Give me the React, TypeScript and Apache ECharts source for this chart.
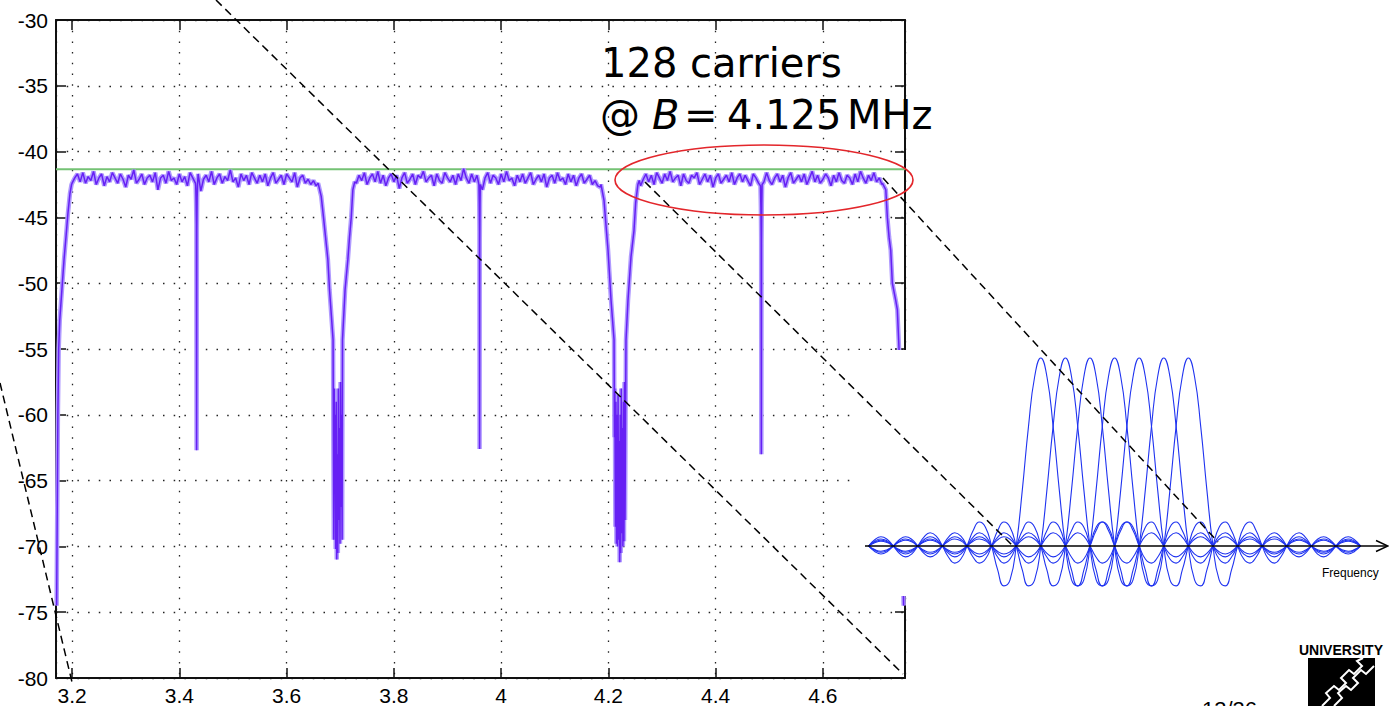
import React, { useEffect, useRef } from 'react';
import * as echarts from 'echarts';

// ---------- main spectrum (MHz, dB) ----------
const X_MIN = 3.17;
const X_MAX = 4.753;
const Y_MIN = -80;
const Y_MAX = -30;
const Y_STEP = 5;
const refLevel = -41.35;

const bandStarts = [3.2, 3.73, 4.26];
const bandStep = 0.005;

const band1 = [
  -42.4, -42.0, -41.7, -42.3, -41.6, -42.4, -41.9, -42.2, -41.5, -42.5,
  -42.0, -41.7, -42.6, -41.9, -42.3, -41.6, -42.0, -42.4, -41.7, -42.1,
  -42.7, -41.8, -42.1, -41.4, -42.4, -42.1, -41.7, -42.5, -42.0, -41.8,
  -42.3, -41.6, -42.9, -42.0, -41.8, -42.4, -41.5, -42.2, -42.0, -42.5,
  -41.7, -42.3, -41.9, -42.6, -41.6, -42.0, -42.4, -41.7, -43.0, -42.1,
  -41.8, -42.3, -41.5, -42.5, -42.0, -41.7, -42.4, -41.9, -42.2, -41.4,
  -42.3, -42.0, -42.7, -41.7, -42.2, -41.8, -42.5, -41.6, -42.0, -42.4,
  -41.8, -42.3, -41.7, -42.6, -42.0, -41.6, -42.4, -42.1, -41.8, -42.5,
  -41.7, -42.0, -42.3, -41.6, -42.7, -42.0, -41.8, -42.4, -42.1, -42.5,
  -42.2, -42.6,
];
const band2 = [
  -42.4, -41.8, -42.2, -41.6, -42.5, -42.0, -41.7, -42.3, -41.5, -42.4,
  -41.8, -42.6, -42.0, -41.7, -42.3, -41.8, -42.8, -42.0, -41.6, -42.4,
  -42.1, -41.7, -42.5, -41.8, -42.0, -41.5, -42.3, -42.0, -41.8, -42.6,
  -41.7, -42.2, -42.4, -41.6, -42.0, -42.3, -41.8, -42.5, -41.7, -42.2,
  -41.3, -42.0, -42.4, -41.7, -42.3, -41.8, -42.2, -42.9, -42.0, -41.6,
  -42.4, -41.8, -42.0, -42.5, -41.7, -42.3, -41.5, -42.2, -42.0, -42.6,
  -41.8, -42.3, -41.7, -42.4, -42.0, -41.6, -42.5, -42.1, -41.8, -42.3,
  -41.7, -42.7, -42.0, -41.8, -42.4, -41.6, -42.2, -42.0, -42.5, -41.7,
  -42.3, -41.8, -42.6, -42.0, -41.7, -42.4, -42.1, -41.8, -42.5, -42.2,
  -42.6, -42.7,
];
const band3 = [
  -42.6, -42.1, -41.7, -42.3, -41.8, -42.5, -41.6, -42.0, -42.4, -41.7,
  -42.2, -41.5, -42.3, -42.0, -41.8, -42.6, -41.7, -42.2, -42.4, -41.8,
  -42.0, -41.6, -42.5, -42.1, -41.7, -42.3, -41.8, -42.7, -42.0, -41.7,
  -42.4, -42.1, -41.8, -42.3, -41.6, -42.5, -42.0, -41.7, -42.3, -41.8,
  -42.2, -42.6, -41.7, -42.0, -42.4, -41.8, -42.3, -41.6, -42.2, -42.5,
  -42.0, -41.7, -42.3, -41.8, -42.7, -42.0, -41.6, -42.4, -42.1, -41.8,
  -42.3, -41.7, -42.5, -42.0, -41.5, -42.3, -41.8, -42.4, -42.1, -41.7,
  -42.0, -42.6, -41.8, -42.3, -41.6, -42.2, -42.4, -41.8, -42.0, -42.5,
  -41.7, -42.3, -41.5, -42.0, -42.4, -41.8, -42.2, -41.6, -42.3, -42.0,
  -42.5,
];

const leftEdge = [
  [3.1712, -74.5], [3.1722, -68], [3.1735, -60], [3.175, -55], [3.177, -52.8],
  [3.181, -50.5], [3.185, -48.2], [3.189, -46.3], [3.192, -44.8], [3.196, -43.2], [3.199, -42.5],
];
const notch1 = [[3.4305, -42.6], [3.4312, -43.8], [3.4318, -45.5], [3.4322, -62.7], [3.4326, -46], [3.4332, -43.5], [3.434, -42.4]];
const notch2 = [[3.9585, -42.5], [3.9592, -44], [3.9596, -46], [3.9598, -62.6], [3.9601, -47], [3.9606, -44], [3.9612, -42.5]];
const notch3 = [[4.4835, -42.6], [4.4843, -44.2], [4.4848, -46.5], [4.4851, -63], [4.4855, -47], [4.486, -44], [4.4866, -42.5]];
const gap1 = [
  [3.6587, -42.4], [3.6645, -43.4], [3.6688, -45], [3.6726, -46.5], [3.6769, -48.2], [3.68, -50.5], [3.6835, -52.5],
  [3.6866, -54.3], [3.6872, -62], [3.688, -69.5], [3.6888, -58], [3.6896, -66], [3.6905, -60], [3.6915, -70.2],
  [3.6925, -59], [3.6935, -71], [3.6945, -63], [3.6955, -70.5], [3.6965, -58], [3.6975, -68], [3.6985, -61],
  [3.6995, -69.8], [3.7005, -57.5], [3.7015, -67], [3.7025, -60], [3.7035, -69.5], [3.7042, -54.3],
  [3.709, -50.5], [3.7142, -48.2], [3.7173, -46.5], [3.7205, -45], [3.7235, -42.9], [3.727, -42.3],
];
const gap2 = [
  [4.1862, -42.5], [4.1918, -43.7], [4.1955, -45.6], [4.1993, -47.5], [4.2049, -51.3],
  [4.2105, -54.3], [4.2112, -61.7], [4.212, -58], [4.213, -68.5], [4.214, -59], [4.215, -69.8], [4.216, -60],
  [4.217, -70], [4.218, -58.5], [4.219, -69.5], [4.22, -62], [4.221, -71.2], [4.222, -60], [4.223, -70.5],
  [4.224, -58], [4.225, -69], [4.226, -61], [4.227, -70], [4.228, -59], [4.229, -69.6], [4.23, -57.5],
  [4.231, -68], [4.232, -60], [4.2328, -54.3],
  [4.2365, -51.3], [4.2421, -48], [4.2477, -46], [4.2508, -43.9], [4.255, -42.5], [4.2575, -42.2],
];
const rightEdge = [
  [4.7108, -42.4], [4.7172, -42.9], [4.7201, -45], [4.7233, -46.5], [4.7264, -47.5], [4.7294, -50],
  [4.7357, -51.3], [4.7387, -52], [4.7419, -55], [4.745, -62], [4.748, -69], [4.7505, -74.5],
];

const xTickLabels = ['3.2', '3.4', '3.6', '3.8', '4', '4.2', '4.4', '4.6'];

// ---------- inset: OFDM sub-carrier spectra ----------
const carriers = [0, 1, 2, 3, 4, 5, 6];
const insetRange = [-7, 13];
const sincStep = 0.25;
const sincKernel = [
  1, 0.9003, 0.6366, 0.3001, 0, -0.1801, -0.2122, -0.1286, 0,
  0.1, 0.1273, 0.0818, 0, -0.0693, -0.0909, -0.06, 0,
  0.053, 0.0707, 0.0474, 0, -0.0429, -0.0579, -0.0391, 0,
  0.036, 0.049, 0.0333, 0, -0.031, -0.0424, -0.029, 0,
  0.0273, 0.0374, 0.0257, 0, -0.0243, -0.0335, -0.0231, 0,
  0.022, 0.0303, 0.0209, 0, -0.02, -0.0277, -0.0192, 0,
  0.0184, 0.0255, 0.0177, 0,
];

function buildSpectrum() {
  const specials = [leftEdge, notch1, gap1, notch2, gap2, notch3, rightEdge];
  const pts: number[][] = [];
  const bands = [band1, band2, band3];
  bands.forEach((b, bi) => {
    b.forEach((v, i) => {
      const f = +(bandStarts[bi] + i * bandStep).toFixed(4);
      const inside = specials.some((s) => f >= s[0][0] && f <= s[s.length - 1][0]);
      if (!inside) pts.push([f, v]);
    });
  });
  specials.forEach((s) => s.forEach((p) => pts.push([p[0], p[1]])));
  pts.sort((a, b) => a[0] - b[0]);
  return pts;
}

function buildCarrier(k: number) {
  const out: number[][] = [];
  const n = Math.round((insetRange[1] - insetRange[0]) / sincStep);
  for (let i = 0; i <= n; i++) {
    const x = insetRange[0] + i * sincStep;
    const idx = Math.round(Math.abs(x - k) / sincStep);
    out.push([x, sincKernel[idx] ?? 0]);
  }
  return out;
}

export default function App() {
  const ref = useRef<HTMLDivElement>(null);
  useEffect(() => {
    if (!ref.current) return;
    const chart = echarts.init(ref.current, undefined, { renderer: 'svg' });
    const spectrum = buildSpectrum();
    const dotted = { type: [1.5, 9.2] as any, color: '#222', width: 1.3 };
    const labelFont = { fontFamily: 'Liberation Sans', fontSize: 21, color: '#000' };

    const insetSeries = carriers.map((k) => ({
      type: 'line',
      xAxisIndex: 2,
      yAxisIndex: 2,
      data: buildCarrier(k),
      symbol: 'none',
      smooth: 0.5,
      clip: false,
      z: 6,
      lineStyle: { color: '#1f33f0', width: 1.1 },
    }));

    const dash = { stroke: '#000', lineWidth: 1.5, lineDash: [8, 5] };

    chart.setOption({
      animation: false,
      backgroundColor: '#fff',
      grid: [
        { left: 56, top: 20, width: 849, height: 658 },
        { left: 868.6, top: 358, width: 492, height: 244.4 },
      ],
      xAxis: [
        {
          type: 'value', gridIndex: 0, min: X_MIN, max: X_MAX, splitNumber: 8, position: 'bottom',
          axisLine: { onZero: false, lineStyle: { color: '#111', width: 2 } },
          axisTick: { inside: true, length: 10, lineStyle: { color: '#111', width: 1.5 } },
          axisLabel: {
            ...labelFont, margin: 7, showMinLabel: true, showMaxLabel: true,
            formatter: (v: number) => {
              const r = Math.round(v * 5);
              if (Math.abs(v * 5 - r) > 1e-6) return '';
              return xTickLabels.find((t) => Math.abs(parseFloat(t) - v) < 1e-6) ?? '';
            },
          },
          splitLine: { show: true, lineStyle: dotted },
        },
        {
          type: 'value', gridIndex: 0, min: X_MIN, max: X_MAX, splitNumber: 8, position: 'top',
          axisLine: { onZero: false, lineStyle: { color: '#111', width: 2 } },
          axisTick: { inside: true, length: 10, lineStyle: { color: '#111', width: 1.5 } },
          axisLabel: { show: false },
          splitLine: { show: false },
        },
        { type: 'value', gridIndex: 1, min: insetRange[0], max: insetRange[1], show: false },
      ],
      yAxis: [
        {
          type: 'value', gridIndex: 0, min: Y_MIN, max: Y_MAX, interval: Y_STEP, position: 'left',
          axisLine: { onZero: false, lineStyle: { color: '#111', width: 2 } },
          axisTick: { inside: true, length: 10, lineStyle: { color: '#111', width: 1.5 } },
          axisLabel: { ...labelFont, margin: 8 },
          splitLine: { show: true, lineStyle: dotted },
        },
        {
          type: 'value', gridIndex: 0, min: Y_MIN, max: Y_MAX, interval: Y_STEP, position: 'right',
          axisLine: { onZero: false, lineStyle: { color: '#111', width: 2 } },
          axisTick: { inside: true, length: 10, lineStyle: { color: '#111', width: 1.5 } },
          axisLabel: { show: false },
          splitLine: { show: false },
        },
        { type: 'value', gridIndex: 1, min: -0.3, max: 1, show: false },
      ],
      series: [
        {
          type: 'line', xAxisIndex: 0, yAxisIndex: 0, symbol: 'none', z: 2,
          data: [[X_MIN, refLevel], [X_MAX, refLevel]],
          lineStyle: { color: '#74c274', width: 2 },
        },
        {
          type: 'line', xAxisIndex: 0, yAxisIndex: 0, symbol: 'none', z: 3,
          data: spectrum,
          lineStyle: { color: '#b09aff', width: 4.5 },
        },
        {
          type: 'line', xAxisIndex: 0, yAxisIndex: 0, symbol: 'none', z: 4,
          data: spectrum,
          lineStyle: { color: '#6620f4', width: 1.5 },
        },
        ...insetSeries,
      ],
      graphic: {
        elements: [
          { type: 'rect', z: 5, shape: { x: 858, y: 350, width: 531, height: 246 }, style: { fill: '#fff' } },
          { type: 'line', z: 7, shape: { x1: 865, y1: 546, x2: 1387, y2: 546 }, style: { stroke: '#000', lineWidth: 1.3 } },
          { type: 'polyline', z: 7, shape: { points: [[1376, 540.5], [1388, 546], [1376, 551.5]] }, style: { stroke: '#000', lineWidth: 1.5, fill: 'none' } },
          { type: 'text', z: 7, x: 1322, y: 573, style: { text: 'Frequency', font: '12px "Liberation Sans"', fill: '#000', verticalAlign: 'middle' } },

          { type: 'line', z: 10, shape: { x1: 216, y1: 0, x2: 903, y2: 674 }, style: dash },
          { type: 'line', z: 10, shape: { x1: 0, y1: 383, x2: 72, y2: 682 }, style: dash },
          { type: 'line', z: 10, shape: { x1: 645, y1: 182, x2: 1012, y2: 545 }, style: dash },
          { type: 'line', z: 10, shape: { x1: 883, y1: 178, x2: 1218, y2: 542 }, style: dash },

          { type: 'ellipse', z: 10, shape: { cx: 764, cy: 180, rx: 149, ry: 35 }, style: { fill: 'none', stroke: '#e3262b', lineWidth: 1.6 } },

          { type: 'text', z: 10, x: 601, y: 63, style: { text: '128 carriers', font: '40px "DejaVu Sans"', fill: '#000', verticalAlign: 'middle' } },
          { type: 'text', z: 10, x: 600, y: 115, style: { text: '@', font: '40px "DejaVu Sans"', fill: '#000', verticalAlign: 'middle' } },
          { type: 'text', z: 10, x: 652, y: 115, style: { text: 'B', font: 'italic 40px "DejaVu Sans"', fill: '#000', verticalAlign: 'middle' } },
          { type: 'text', z: 10, x: 684, y: 115, style: { text: '=', font: '40px "DejaVu Sans"', fill: '#000', verticalAlign: 'middle' } },
          { type: 'text', z: 10, x: 727, y: 115, style: { text: '4.125', font: '40px "DejaVu Sans"', fill: '#000', verticalAlign: 'middle' } },
          { type: 'text', z: 10, x: 847, y: 115, style: { text: 'MHz', font: '40px "DejaVu Sans"', fill: '#000', verticalAlign: 'middle' } },

          { type: 'text', z: 10, x: 1202, y: 698, style: { text: '13/36', font: '22px "Liberation Sans"', fill: '#000', verticalAlign: 'top' } },

          { type: 'text', z: 10, x: 1341, y: 650, style: { text: 'UNIVERSITY', font: 'bold 14px "Liberation Sans Narrow", "Liberation Sans"', fill: '#000', align: 'center', verticalAlign: 'middle' } },
          { type: 'rect', z: 10, shape: { x: 1308, y: 658, width: 67, height: 48 }, style: { fill: '#000' } },
          {
            type: 'polyline', z: 11,
            shape: { points: [[1322, 706], [1330, 698], [1326, 693], [1334, 686], [1339, 690], [1346, 683], [1341, 678], [1349, 670], [1354, 674], [1362, 666], [1357, 661], [1363, 658]] },
            style: { stroke: '#fff', lineWidth: 2, fill: 'none' },
          },
          {
            type: 'polyline', z: 11,
            shape: { points: [[1334, 706], [1342, 698], [1338, 693], [1346, 686], [1351, 690], [1358, 683], [1353, 678], [1361, 670], [1366, 674], [1374, 666]] },
            style: { stroke: '#fff', lineWidth: 2, fill: 'none' },
          },
        ],
      },
    });
    return () => chart.dispose();
  }, []);
  return (
    <div
      ref={ref}
      style={{ position: 'fixed', left: 0, top: 0, width: 1389, height: 706, background: '#fff' }}
    />
  );
}
